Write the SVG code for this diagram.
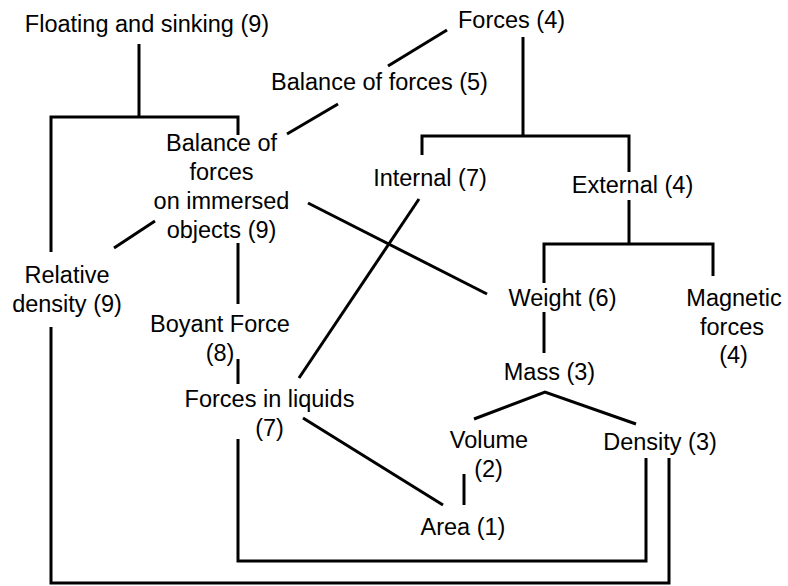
<svg xmlns="http://www.w3.org/2000/svg" width="788" height="586" viewBox="0 0 788 586">
<style>
text{font-family:"Liberation Sans",Arial,sans-serif;font-size:23.5px;fill:#000;text-anchor:middle}
.c{fill:none;stroke:#000;stroke-width:3;stroke-linecap:butt;stroke-linejoin:miter}
</style>
<rect width="788" height="586" fill="#fff"/>
<g id="connectors">
<polyline class="c" points="139,44 139,117"/>
<polyline class="c" points="51,252 51,117 238,117 238,135"/>
<polyline class="c" points="51,327 51,583 669,583 669,458"/>
<polyline class="c" points="238,439 238,561 646,561 646,458"/>
<line class="c" x1="388" y1="66" x2="447" y2="30"/>
<line class="c" x1="287" y1="134" x2="338" y2="104"/>
<polyline class="c" points="523,37 523,136"/>
<polyline class="c" points="422,155 422,136 629,136 629,172"/>
<polyline class="c" points="629,200 629,244"/>
<polyline class="c" points="544,283 544,244 713,244 713,276"/>
<line class="c" x1="544" y1="312" x2="544" y2="353"/>
<line class="c" x1="308" y1="203" x2="487" y2="294"/>
<line class="c" x1="155" y1="221" x2="114" y2="248"/>
<line class="c" x1="238" y1="243" x2="238" y2="304"/>
<line class="c" x1="238" y1="359" x2="238" y2="384"/>
<line class="c" x1="419" y1="199" x2="299" y2="378"/>
<line class="c" x1="303" y1="418" x2="443" y2="505"/>
<line class="c" x1="464" y1="474" x2="464" y2="505"/>
<polyline class="c" points="474,419 545,392 636,424"/>
</g>
<g id="floating"><text x="147" y="31.5">Floating and sinking (9)</text></g>
<g id="forces"><text x="511.5" y="28">Forces (4)</text></g>
<g id="balance5"><text x="379.5" y="90">Balance of forces (5)</text></g>
<g id="balance9"><text x="221.5" y="151">Balance of</text><text x="221.5" y="180">forces</text><text x="221.5" y="209">on immersed</text><text x="221.5" y="238">objects (9)</text></g>
<g id="internal"><text x="430" y="186">Internal (7)</text></g>
<g id="external"><text x="632.5" y="193">External (4)</text></g>
<g id="relative"><text x="67" y="283">Relative</text><text x="67" y="312">density (9)</text></g>
<g id="boyant"><text x="220" y="332">Boyant Force</text><text x="220" y="361">(8)</text></g>
<g id="liquids"><text x="269.5" y="407">Forces in liquids</text><text x="269.5" y="436">(7)</text></g>
<g id="weight"><text x="562.5" y="306">Weight (6)</text></g>
<g id="magnetic"><text x="734" y="306">Magnetic</text><text x="732" y="335">forces</text><text x="733.5" y="363">(4)</text></g>
<g id="mass"><text x="549.5" y="380">Mass (3)</text></g>
<g id="volume"><text x="489" y="448">Volume</text><text x="488.5" y="477">(2)</text></g>
<g id="density"><text x="660" y="450">Density (3)</text></g>
<g id="area"><text x="463" y="535">Area (1)</text></g>
</svg>
